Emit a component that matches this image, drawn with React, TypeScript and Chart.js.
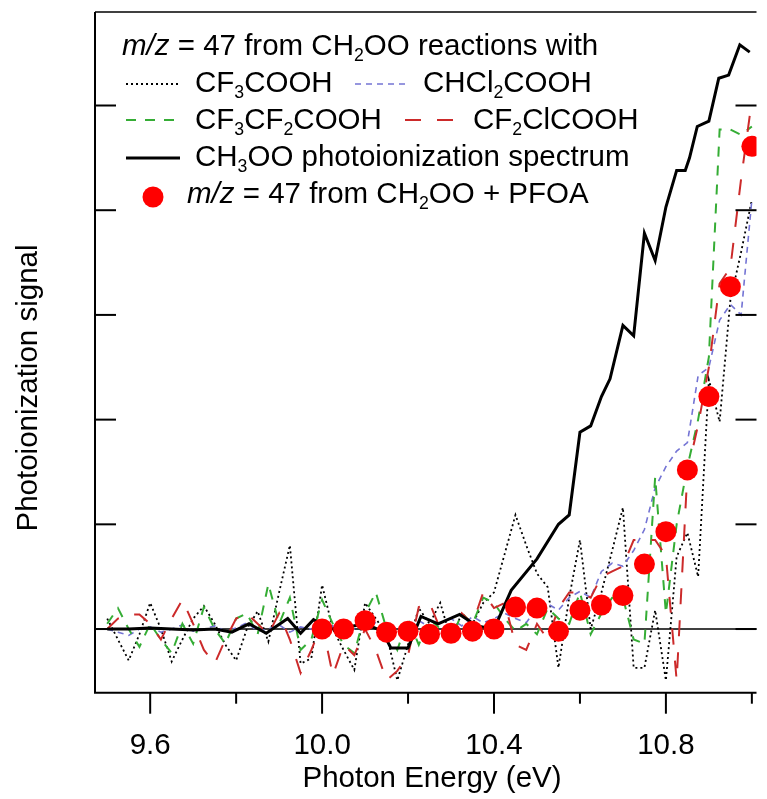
import React, { useEffect, useRef } from "react";
import { Chart, registerables } from "chart.js";

Chart.register(...registerables);

// ---------- data ----------
const energyGrid = [
  9.5, 9.525, 9.55, 9.575, 9.6, 9.625, 9.65, 9.675, 9.7, 9.725, 9.75, 9.775, 9.8, 9.825, 9.85, 9.875,
  9.9, 9.925, 9.95, 9.975, 10.0, 10.025, 10.05, 10.075, 10.1, 10.125, 10.15, 10.175, 10.2, 10.225,
  10.25, 10.275, 10.3, 10.325, 10.35, 10.375, 10.4, 10.425, 10.45, 10.475, 10.5, 10.525, 10.55,
  10.575, 10.6, 10.625, 10.65, 10.675, 10.7, 10.725, 10.75, 10.775, 10.8, 10.825, 10.85, 10.875,
  10.9, 10.925, 10.95, 10.975, 11.0,
];

const cf3cooh = [
  0.1, -0.1, -0.3, -0.05, 0.25, 0.0, -0.31, -0.1, 0.1, 0.22, 0.05, -0.15, -0.3, 0.0, 0.17, -0.12,
  0.35, 0.8, -0.33, -0.28, 0.42, 0.0, -0.2, -0.39, 0.25, 0.1, -0.05, -0.49, -0.15, 0.2,
  0.05, 0.25, -0.1, 0.15, 0.05, 0.25, 0.35, 0.72, 1.09, 0.8, 0.53, 0.4, -0.37,
  0.3, 0.85, 0.0, 0.35, 0.75, 1.16, -0.37, -0.37, 0.18, -0.49, 0.69, 0.92, 0.5,
  2.38, 1.98, 3.14, 3.6, 4.1,
];

const chcl2cooh = [
  0.0, -0.03, -0.06, 0.0, 0.02, -0.03, 0.0, 0.04, -0.02, 0.0, 0.03, -0.02, 0.01, 0.06, -0.02, 0.0,
  0.04, -0.03, 0.02, 0.0, -0.02, 0.03, -0.04, 0.0, 0.03, 0.06, -0.03, 0.0, 0.02, 0.08,
  0.02, 0.06, 0.1, 0.03, 0.12, 0.06, 0.1, 0.15, 0.1, 0.06, 0.2, 0.24, 0.18,
  0.3, 0.36, 0.3, 0.55, 0.63, 0.6, 0.75, 0.95, 1.35, 1.55, 1.7, 1.78, 2.42,
  2.5, 2.95, 3.1, 3.0, 4.1,
];

const cf3cf2cooh = [
  0.05, 0.2, 0.0, -0.17, 0.05, -0.1, -0.23, 0.05, -0.14, 0.21, 0.0, -0.14, 0.1, 0.15, -0.05, 0.43,
  0.05, 0.3, -0.2, -0.1, 0.28, 0.05, -0.15, -0.23, 0.15, 0.35, 0.0, -0.2, 0.1, -0.15,
  0.1, 0.0, -0.1, 0.15, 0.05, 0.3, 0.25, 0.1, -0.02, 0.05, -0.05, 0.2, 0.1,
  0.05, 0.35, -0.05, 0.15, 0.3, 0.3, -0.1, -0.14, 1.45, 0.15, 1.0, 1.55, 2.0,
  2.6, 4.77, 4.77, 4.72, 4.8,
];

const cf2clcooh = [
  0.0, 0.1, 0.14, 0.14, 0.05, -0.1, 0.1, 0.28, 0.05, -0.2, -0.33, -0.1, 0.1, 0.15, 0.05, -0.05,
  0.15, -0.1, -0.42, -0.2, 0.05, -0.44, -0.15, -0.25, 0.0, -0.2, -0.49, -0.4, -0.25, 0.21,
  0.25, 0.0, -0.1, 0.15, 0.05, 0.35, 0.2, 0.25, -0.15, -0.2, 0.05, -0.1, 0.2,
  0.35, 0.35, 0.3, 0.5, 0.55, 0.6, 0.85, 0.85, 0.85, 0.7, -0.49, 1.5, 1.95,
  2.5, 3.3, 3.45, 4.3, 5.05,
];

const ch3ooEnergy = [
  9.5, 9.55, 9.6, 9.65, 9.7, 9.75, 9.79, 9.83, 9.87, 9.92, 9.95, 9.98, 10.02, 10.06, 10.1, 10.14,
  10.16, 10.2, 10.23, 10.27, 10.32, 10.36, 10.4, 10.44, 10.5, 10.55, 10.575, 10.6, 10.625, 10.65,
  10.67, 10.7, 10.725, 10.75, 10.775, 10.8, 10.825, 10.845, 10.855, 10.873, 10.9, 10.923, 10.946,
  10.972, 10.995,
];
const ch3ooSignal = [
  0.0, 0.0, 0.01, 0.0, -0.01, 0.0, -0.03, 0.05, -0.04, 0.1, -0.04, 0.09, 0.0, 0.02, 0.05, -0.02,
  -0.18, -0.18, 0.12, 0.05, 0.14, 0.03, 0.0, 0.37, 0.67, 1.0, 1.09, 1.88, 1.94, 2.22,
  2.39, 2.9, 2.8, 3.78, 3.52, 4.03, 4.38, 4.38, 4.5, 4.8, 4.85, 5.26, 5.29,
  5.58, 5.51,
];

const pfoaEnergy = [
  10.0, 10.05, 10.1, 10.15, 10.2, 10.25, 10.3, 10.35, 10.4, 10.45, 10.5, 10.55, 10.6, 10.65, 10.7,
  10.75, 10.8, 10.85, 10.9, 10.95, 11.0,
];
const pfoaSignal = [
  0.0, 0.0, 0.08, -0.03, -0.02, -0.05, -0.04, -0.02, 0.0, 0.21, 0.2, -0.02, 0.18, 0.23, 0.32,
  0.62, 0.93, 1.52, 2.22, 3.27, 4.61,
];

const xMajorTicks = [9.6, 10.0, 10.4, 10.8];
const xMajorLabels = ["9.6", "10.0", "10.4", "10.8"];
const xMinorTicks = [9.8, 10.2, 10.6, 11.0];
const yTicks = [0, 1, 2, 3, 4, 5];

const xTitle = "Photon Energy (eV)";
const yTitle = "Photoionization signal";

const X_MIN = 9.4716;
const X_MAX = 11.0108;
const Y_MIN = -0.608;
const Y_MAX = 5.893;

// ---------- styling ----------
const FONT = '"Liberation Sans", Arial, Helvetica, sans-serif';
const FS = 29.5;

const C_DOT = "#000000";
const C_BLUE = "#7474d4";
const C_GREEN = "#35ad35";
const C_RED = "#cc2a2a";
const C_PFOA = "#ff0000";

const DASH_DOT = [2, 3];
const DASH_BLUE = [6, 5];
const DASH_GREEN = [10, 9];
const DASH_RED = [16, 16];

type Part = { t: string; sub?: boolean; italic?: boolean };

const legendTitle: Part[] = [
  { t: "m/z", italic: true },
  { t: " = 47 from CH" },
  { t: "2", sub: true },
  { t: "OO reactions with" },
];
const lblCF3: Part[] = [{ t: "CF" }, { t: "3", sub: true }, { t: "COOH" }];
const lblCHCl2: Part[] = [{ t: "CHCl" }, { t: "2", sub: true }, { t: "COOH" }];
const lblCF3CF2: Part[] = [
  { t: "CF" },
  { t: "3", sub: true },
  { t: "CF" },
  { t: "2", sub: true },
  { t: "COOH" },
];
const lblCF2Cl: Part[] = [{ t: "CF" }, { t: "2", sub: true }, { t: "ClCOOH" }];
const lblCH3OO: Part[] = [{ t: "CH" }, { t: "3", sub: true }, { t: "OO photoionization spectrum" }];
const lblPFOA: Part[] = [
  { t: "m/z", italic: true },
  { t: " = 47 from CH" },
  { t: "2", sub: true },
  { t: "OO + PFOA" },
];

function drawRich(ctx: CanvasRenderingContext2D, x: number, y: number, parts: Part[], size: number) {
  let cx = x;
  ctx.textAlign = "left";
  ctx.textBaseline = "alphabetic";
  for (const p of parts) {
    const s = p.sub ? size * 0.6 : size;
    ctx.font = `${p.italic ? "italic " : ""}${s}px ${FONT}`;
    ctx.fillText(p.t, cx, y + (p.sub ? size * 0.22 : 0));
    cx += ctx.measureText(p.t).width;
  }
}

function sample(
  ctx: CanvasRenderingContext2D,
  x0: number,
  x1: number,
  y: number,
  color: string,
  width: number,
  dash: number[]
) {
  ctx.save();
  ctx.strokeStyle = color;
  ctx.lineWidth = width;
  ctx.setLineDash(dash);
  ctx.beginPath();
  ctx.moveTo(x0, y);
  ctx.lineTo(x1, y);
  ctx.stroke();
  ctx.restore();
}

const decorPlugin = {
  id: "decor",
  beforeDatasetsDraw(chart: any) {
    const { ctx, chartArea: a, scales } = chart;
    const y0 = scales.y.getPixelForValue(0);
    ctx.save();
    ctx.strokeStyle = "#000";
    ctx.lineWidth = 1.5;
    ctx.beginPath();
    ctx.moveTo(a.left, y0);
    ctx.lineTo(a.right, y0);
    ctx.stroke();
    ctx.restore();
  },
  afterDraw(chart: any) {
    const { ctx, chartArea: a, scales } = chart;
    const sx = scales.x;
    const sy = scales.y;
    ctx.save();
    ctx.strokeStyle = "#000";
    ctx.fillStyle = "#000";

    // frame
    ctx.lineWidth = 2;
    ctx.beginPath();
    ctx.moveTo(a.left, a.top);
    ctx.lineTo(a.left, a.bottom);
    ctx.lineTo(a.right, a.bottom);
    ctx.stroke();
    ctx.lineWidth = 1.5;
    ctx.beginPath();
    ctx.moveTo(a.left, a.top);
    ctx.lineTo(a.right, a.top);
    ctx.stroke();

    // x ticks
    ctx.lineWidth = 2;
    for (const v of xMajorTicks) {
      const px = sx.getPixelForValue(v);
      ctx.beginPath();
      ctx.moveTo(px, a.bottom);
      ctx.lineTo(px, a.bottom + 21);
      ctx.stroke();
    }
    for (const v of xMinorTicks) {
      const px = sx.getPixelForValue(v);
      ctx.beginPath();
      ctx.moveTo(px, a.bottom);
      ctx.lineTo(px, a.bottom + 11);
      ctx.stroke();
    }
    // y ticks (inside, both sides)
    for (const v of yTicks) {
      const py = sy.getPixelForValue(v);
      ctx.beginPath();
      ctx.moveTo(a.left, py);
      ctx.lineTo(a.left + 21, py);
      ctx.stroke();
      ctx.beginPath();
      ctx.moveTo(a.right - 21, py);
      ctx.lineTo(a.right, py);
      ctx.stroke();
    }

    // tick labels
    ctx.font = `${FS}px ${FONT}`;
    ctx.textAlign = "center";
    ctx.textBaseline = "alphabetic";
    xMajorTicks.forEach((v, i) => {
      ctx.fillText(xMajorLabels[i], sx.getPixelForValue(v), a.bottom + 61);
    });

    // axis titles
    ctx.fillText(xTitle, 432, 787);
    ctx.save();
    ctx.translate(37, 388);
    ctx.rotate(-Math.PI / 2);
    ctx.textAlign = "center";
    ctx.fillText(yTitle, 0, 0);
    ctx.restore();

    // legend
    ctx.fillStyle = "#000";
    drawRich(ctx, 122, 55, legendTitle, FS);

    sample(ctx, 126, 180, 84, C_DOT, 1.8, DASH_DOT);
    drawRich(ctx, 195, 92, lblCF3, FS);
    sample(ctx, 355, 408, 84, C_BLUE, 1.6, DASH_BLUE);
    drawRich(ctx, 423, 92, lblCHCl2, FS);

    sample(ctx, 126, 178, 120, C_GREEN, 2, DASH_GREEN);
    drawRich(ctx, 195, 129, lblCF3CF2, FS);
    sample(ctx, 405, 455, 120, C_RED, 2, DASH_RED);
    drawRich(ctx, 473, 129, lblCF2Cl, FS);

    sample(ctx, 126, 180, 158, "#000", 3, []);
    drawRich(ctx, 195, 166, lblCH3OO, FS);

    ctx.fillStyle = C_PFOA;
    ctx.beginPath();
    ctx.arc(153, 197, 10.5, 0, Math.PI * 2);
    ctx.fill();
    ctx.fillStyle = "#000";
    drawRich(ctx, 187, 203, lblPFOA, FS);

    ctx.restore();
  },
};

function pts(xs: number[], ys: number[]) {
  return xs.map((x, i) => ({ x, y: ys[i] }));
}

export default function App() {
  const ref = useRef<HTMLCanvasElement | null>(null);

  useEffect(() => {
    document.body.style.margin = "0";
    const canvas = ref.current;
    if (!canvas) return;
    const chart = new Chart(canvas, {
      type: "line",
      data: {
        datasets: [
          {
            label: "PFOA",
            data: pts(pfoaEnergy, pfoaSignal),
            showLine: false,
            pointRadius: 10.5,
            pointBackgroundColor: C_PFOA,
            pointBorderWidth: 0,
            borderColor: C_PFOA,
            order: 0,
          },
          {
            label: "CH3OO",
            data: pts(ch3ooEnergy, ch3ooSignal),
            borderColor: "#000",
            borderWidth: 3,
            pointRadius: 0,
            tension: 0,
            order: 1,
          },
          {
            label: "CF2ClCOOH",
            data: pts(energyGrid, cf2clcooh),
            borderColor: C_RED,
            borderWidth: 2,
            borderDash: DASH_RED,
            pointRadius: 0,
            tension: 0,
            order: 2,
          },
          {
            label: "CF3CF2COOH",
            data: pts(energyGrid, cf3cf2cooh),
            borderColor: C_GREEN,
            borderWidth: 2,
            borderDash: DASH_GREEN,
            pointRadius: 0,
            tension: 0,
            order: 3,
          },
          {
            label: "CHCl2COOH",
            data: pts(energyGrid, chcl2cooh),
            borderColor: C_BLUE,
            borderWidth: 1.6,
            borderDash: DASH_BLUE,
            pointRadius: 0,
            tension: 0,
            order: 4,
          },
          {
            label: "CF3COOH",
            data: pts(energyGrid, cf3cooh),
            borderColor: C_DOT,
            borderWidth: 1.8,
            borderDash: DASH_DOT,
            pointRadius: 0,
            tension: 0,
            order: 5,
          },
        ],
      },
      options: {
        responsive: false,
        maintainAspectRatio: false,
        devicePixelRatio: 1,
        animation: false,
        layout: { padding: { left: 95, top: 12, right: 0, bottom: 106.3 } },
        plugins: { legend: { display: false }, tooltip: { enabled: false } },
        scales: {
          x: { type: "linear", min: X_MIN, max: X_MAX, display: false },
          y: { type: "linear", min: Y_MIN, max: Y_MAX, display: false },
        },
      },
      plugins: [decorPlugin],
    });
    return () => chart.destroy();
  }, []);

  return (
    <div style={{ position: "fixed", left: 0, top: 0, width: 767, height: 799, background: "#fff" }}>
      <canvas ref={ref} width={767} height={799} style={{ width: 767, height: 799, display: "block" }} />
    </div>
  );
}
